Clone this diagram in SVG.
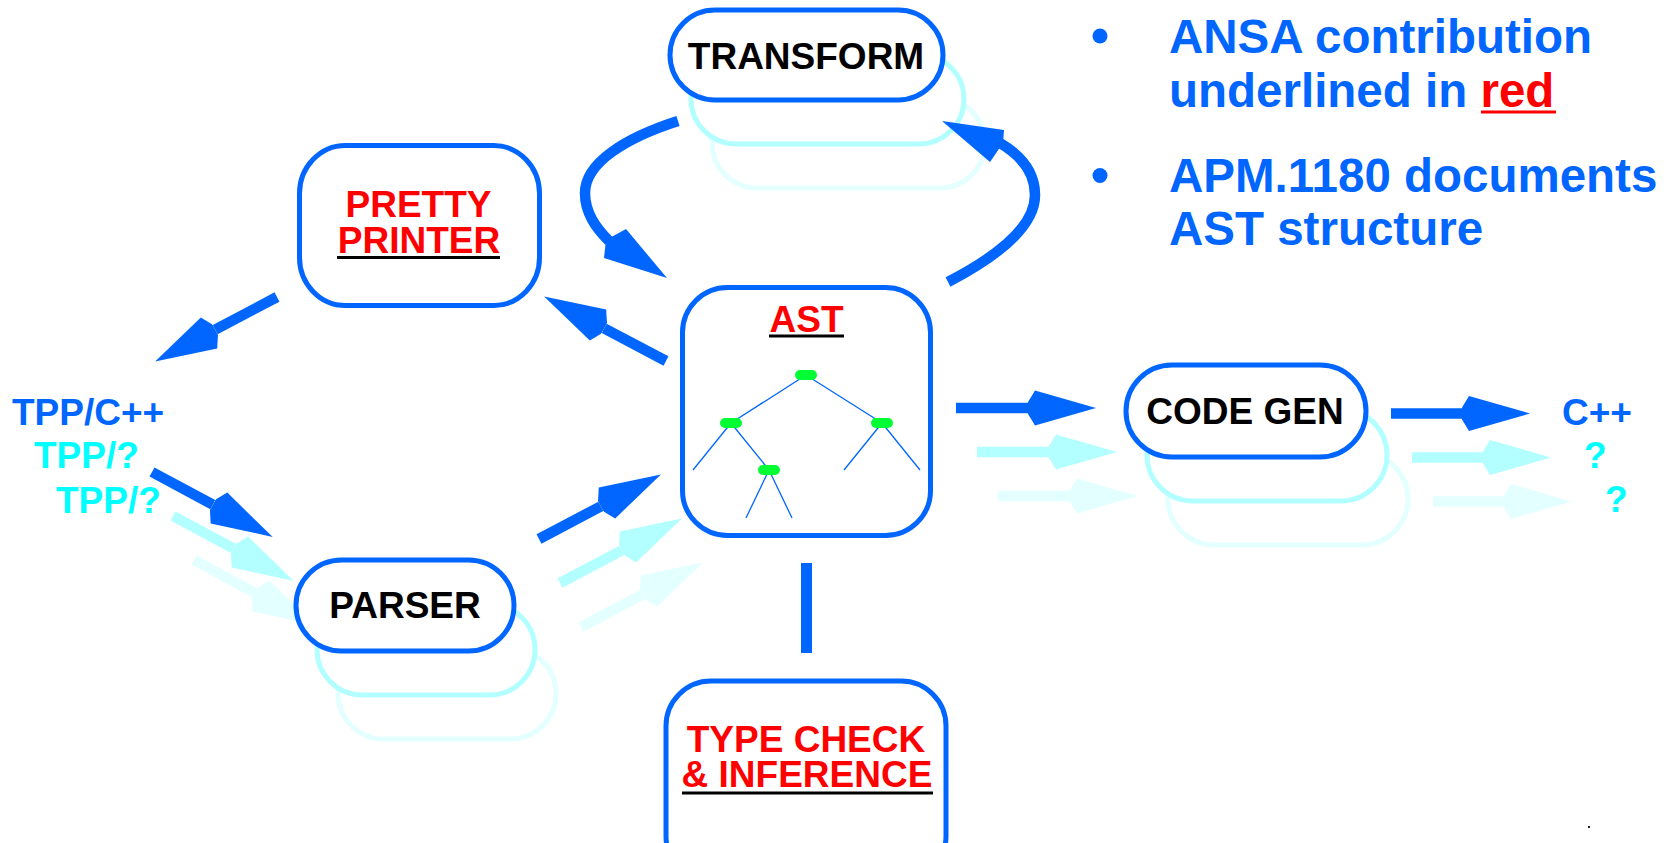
<svg xmlns="http://www.w3.org/2000/svg" width="1671" height="843" viewBox="0 0 1671 843">
  <style>
    text { font-family: "Liberation Sans", Arial, sans-serif; font-weight: bold; }
    .box { fill: #ffffff; stroke: #0066ff; stroke-width: 5; }
    .ghost1 { fill: #ffffff; stroke: #b3ffff; stroke-width: 5; }
    .ghost2 { fill: #ffffff; stroke: #e3ffff; stroke-width: 5; }
    .lbl { font-size: 37px; fill: #000000; text-anchor: middle; }
    .red { fill: #ff0000; }
    .ul { stroke: #000000; stroke-width: 3; }
    .blue { fill: #0066ff; }
    .cyan { fill: #00ffff; }
    .io { font-size: 37px; }
    .shaft { stroke-width: 10.5; fill: none; }
    .s-blue { stroke: #0066ff; }
    .s-cyan { stroke: #b3ffff; }
    .s-pale { stroke: #e3ffff; }
    .tree { stroke: #0066ff; stroke-width: 1.3; }
    .leaf { fill: #00ff33; }
    .bullet { font-size: 47.5px; fill: #0066ff; }
  </style>
  <defs>
    <marker id="head-blue" markerUnits="userSpaceOnUse" orient="auto" viewBox="0 -18 70 36" refX="0" refY="0" markerWidth="70" markerHeight="36">
      <path d="M0,-6 L7,-17.5 L68,0 L7,17.5 L0,6 z" fill="#0066ff"/>
    </marker>
    <marker id="head-cyan" markerUnits="userSpaceOnUse" orient="auto" viewBox="0 -18 70 36" refX="0" refY="0" markerWidth="70" markerHeight="36">
      <path d="M0,-6 L7,-17.5 L68,0 L7,17.5 L0,6 z" fill="#b3ffff"/>
    </marker>
    <marker id="head-pale" markerUnits="userSpaceOnUse" orient="auto" viewBox="0 -18 70 36" refX="0" refY="0" markerWidth="70" markerHeight="36">
      <path d="M0,-6 L7,-17.5 L68,0 L7,17.5 L0,6 z" fill="#e3ffff"/>
    </marker>
  </defs>

  <rect width="1671" height="843" fill="#ffffff"/>

  <!-- stacked back copies of the multi-instance stages -->
  <g id="stacks">
    <rect class="ghost2" x="712" y="98" width="273" height="90" rx="45" ry="45"/>
    <rect class="ghost1" x="691" y="54" width="273" height="90" rx="45" ry="45"/>
    <rect class="ghost2" x="338" y="648" width="218" height="91" rx="45.5" ry="45.5"/>
    <rect class="ghost1" x="317" y="604" width="218" height="91" rx="45.5" ry="45.5"/>
    <rect class="ghost2" x="1168" y="453" width="240" height="92" rx="46" ry="46"/>
    <rect class="ghost1" x="1147" y="409" width="240" height="92" rx="46" ry="46"/>
  </g>

  <g id="connectors">
    <!-- AST -> TRANSFORM -> AST loop -->
    <path class="shaft s-blue" d="M678,121 C625,138 585,163 585,193 C585,213 596,228 609,241"/>
    <polygon class="blue" points="606,240 626,229 667,278 604,258"/>
    <path class="shaft s-blue" d="M948,282 C1000,255 1035,226 1035,195 C1035,172 1022,156 1000,143"/>
    <polygon class="blue" points="942,121 1004,130 1003,143 990,162"/>

    <!-- pretty printer output and AST input -->
    <line class="shaft s-blue" x1="277" y1="297" x2="215.2" y2="329.7" marker-end="url(#head-blue)"/>
    <line class="shaft s-blue" x1="666" y1="361" x2="604.2" y2="328.3" marker-end="url(#head-blue)"/>

    <!-- sources into PARSER -->
    <line class="shaft s-pale" x1="194" y1="560" x2="254.8" y2="592.7" marker-end="url(#head-pale)"/>
    <line class="shaft s-cyan" x1="173" y1="516" x2="233.8" y2="548.7" marker-end="url(#head-cyan)"/>
    <line class="shaft s-blue" x1="152" y1="472" x2="212.8" y2="504.7" marker-end="url(#head-blue)"/>

    <!-- PARSER -> AST -->
    <line class="shaft s-pale" x1="581" y1="627" x2="642.8" y2="594.3" marker-end="url(#head-pale)"/>
    <line class="shaft s-cyan" x1="560" y1="583" x2="621.8" y2="550.3" marker-end="url(#head-cyan)"/>
    <line class="shaft s-blue" x1="539" y1="539" x2="600.8" y2="506.3" marker-end="url(#head-blue)"/>

    <!-- AST -> CODE GEN -->
    <line class="shaft s-pale" x1="998" y1="496" x2="1070" y2="496" marker-end="url(#head-pale)"/>
    <line class="shaft s-cyan" x1="977" y1="452" x2="1049" y2="452" marker-end="url(#head-cyan)"/>
    <line class="shaft s-blue" x1="956" y1="408" x2="1028" y2="408" marker-end="url(#head-blue)"/>

    <!-- CODE GEN -> targets -->
    <line class="shaft s-pale" x1="1433" y1="501.5" x2="1504" y2="501.5" marker-end="url(#head-pale)"/>
    <line class="shaft s-cyan" x1="1412" y1="457.5" x2="1483" y2="457.5" marker-end="url(#head-cyan)"/>
    <line class="shaft s-blue" x1="1391" y1="413.5" x2="1462" y2="413.5" marker-end="url(#head-blue)"/>

    <!-- AST <-> TYPE CHECK -->
    <line class="s-blue" x1="806.5" y1="563" x2="806.5" y2="653" stroke-width="11"/>
  </g>

  <g id="transform">
    <rect class="box" x="670" y="10" width="273" height="90" rx="45" ry="45"/>
    <text class="lbl" x="806" y="69">TRANSFORM</text>
  </g>

  <g id="pretty-printer">
    <rect class="box" x="299.5" y="145.5" width="240" height="160" rx="46" ry="48"/>
    <text class="lbl red" x="418.5" y="217">PRETTY</text>
    <text class="lbl red" x="419" y="253">PRINTER</text>
    <line class="ul" x1="337" y1="257.5" x2="500" y2="257.5"/>
  </g>

  <g id="ast">
    <rect class="box" x="682.5" y="287.5" width="248" height="248" rx="45" ry="45"/>
    <text class="lbl red" x="806.5" y="332" font-size="36">AST</text>
    <line class="ul" x1="769" y1="336" x2="844" y2="336"/>
    <g id="ast-tree">
      <line class="tree" x1="806" y1="375" x2="731" y2="423"/>
      <line class="tree" x1="806" y1="375" x2="882" y2="423"/>
      <line class="tree" x1="731" y1="423" x2="693" y2="470"/>
      <line class="tree" x1="731" y1="423" x2="769" y2="470"/>
      <line class="tree" x1="882" y1="423" x2="844" y2="470"/>
      <line class="tree" x1="882" y1="423" x2="920" y2="470"/>
      <line class="tree" x1="769" y1="470" x2="746" y2="518"/>
      <line class="tree" x1="769" y1="470" x2="792" y2="518"/>
      <rect class="leaf" x="795" y="370" width="22" height="10" rx="5"/>
      <rect class="leaf" x="720" y="418" width="22" height="10" rx="5"/>
      <rect class="leaf" x="871" y="418" width="22" height="10" rx="5"/>
      <rect class="leaf" x="758" y="465" width="22" height="10" rx="5"/>
    </g>
  </g>

  <g id="parser">
    <rect class="box" x="296" y="560" width="218" height="91" rx="45.5" ry="45.5"/>
    <text class="lbl" x="405" y="618" font-size="36">PARSER</text>
  </g>

  <g id="code-gen">
    <rect class="box" x="1126" y="365" width="240" height="92" rx="46" ry="46"/>
    <text class="lbl" x="1245" y="424">CODE GEN</text>
  </g>

  <g id="type-check">
    <rect class="box" x="666" y="681" width="280" height="200" rx="45" ry="45"/>
    <text class="lbl red" x="806" y="752">TYPE CHECK</text>
    <text class="lbl red" x="807" y="787">&amp; INFERENCE</text>
    <line class="ul" x1="682" y1="793" x2="933" y2="793"/>
  </g>

  <g id="sources">
    <text class="io blue" x="12" y="425">TPP/C++</text>
    <text class="io cyan" x="34" y="468">TPP/?</text>
    <text class="io cyan" x="56" y="513">TPP/?</text>
  </g>

  <g id="targets">
    <text class="io blue" x="1562" y="425" font-size="36">C++</text>
    <text class="io cyan" x="1584" y="468" font-size="36">?</text>
    <text class="io cyan" x="1605" y="512" font-size="36">?</text>
  </g>

  <g id="notes">
    <circle class="blue" cx="1100" cy="36" r="7.5"/>
    <circle class="blue" cx="1100" cy="175.5" r="7.5"/>
    <text class="bullet" x="1169" y="53">ANSA contribution</text>
    <text class="bullet" x="1169" y="107">underlined in <tspan fill="#ff0000">red</tspan></text>
    <line x1="1481" y1="112" x2="1556" y2="112" stroke="#ff0000" stroke-width="3"/>
    <text class="bullet" x="1169" y="192">APM.1180 documents</text>
    <text class="bullet" x="1169" y="245">AST structure</text>
  </g>

  <rect x="1588" y="826" width="2" height="2" fill="#222222"/>
</svg>
